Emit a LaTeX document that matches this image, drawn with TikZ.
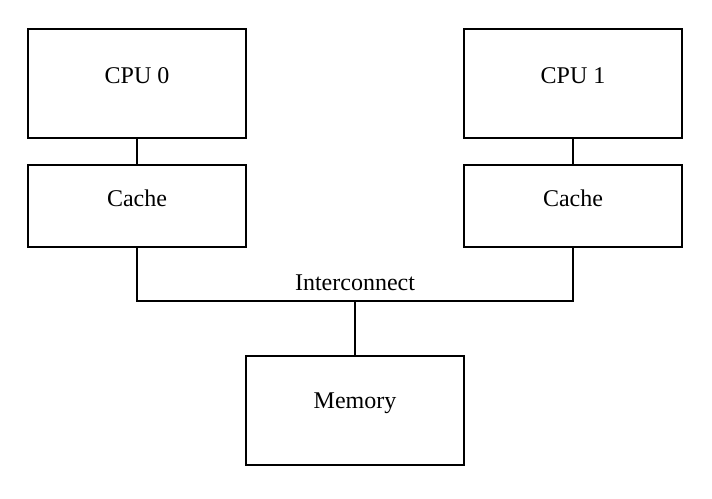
\documentclass[tikz,border=0pt]{standalone}
\usepackage{fontspec}
\setmainfont{Liberation Serif}
\begin{document}
\begin{tikzpicture}[x=1pt,y=-1pt,
  box/.style={draw,line width=1.2pt,minimum width=218pt,inner sep=0pt},
  txt/.style={font=\fontsize{24}{28}\selectfont,yshift=7.5pt},
  wire/.style={line width=1.2pt}]
\useasboundingbox (0,0) rectangle (712,498);
\node[box,minimum height=109pt,label={[txt]center:CPU 0}] (cpu0) at (137,83.5) {};
\node[box,minimum height=82pt,label={[txt]center:Cache}] (cache0) at (137,206) {};
\node[box,minimum height=109pt,label={[txt]center:CPU 1}] (cpu1) at (573,83.5) {};
\node[box,minimum height=82pt,label={[txt]center:Cache}] (cache1) at (573,206) {};
\node[box,minimum height=109pt,label={[txt]center:Memory}] (mem) at (355,410.5) {};
\coordinate (bl) at (137,301);
\coordinate (br) at (573,301);
\coordinate (bm) at (355,301);
\draw[wire] (cpu0) -- (cache0);
\draw[wire] (cpu1) -- (cache1);
\draw[wire] (cache0.south) -- (bl) -- (br) -- (cache1.south);
\draw[wire] (bm) -- (mem.north);
\node[font=\fontsize{24}{28}\selectfont,anchor=south,inner sep=0pt] (ic) at (355,291) {Interconnect};
\end{tikzpicture}
\end{document}
